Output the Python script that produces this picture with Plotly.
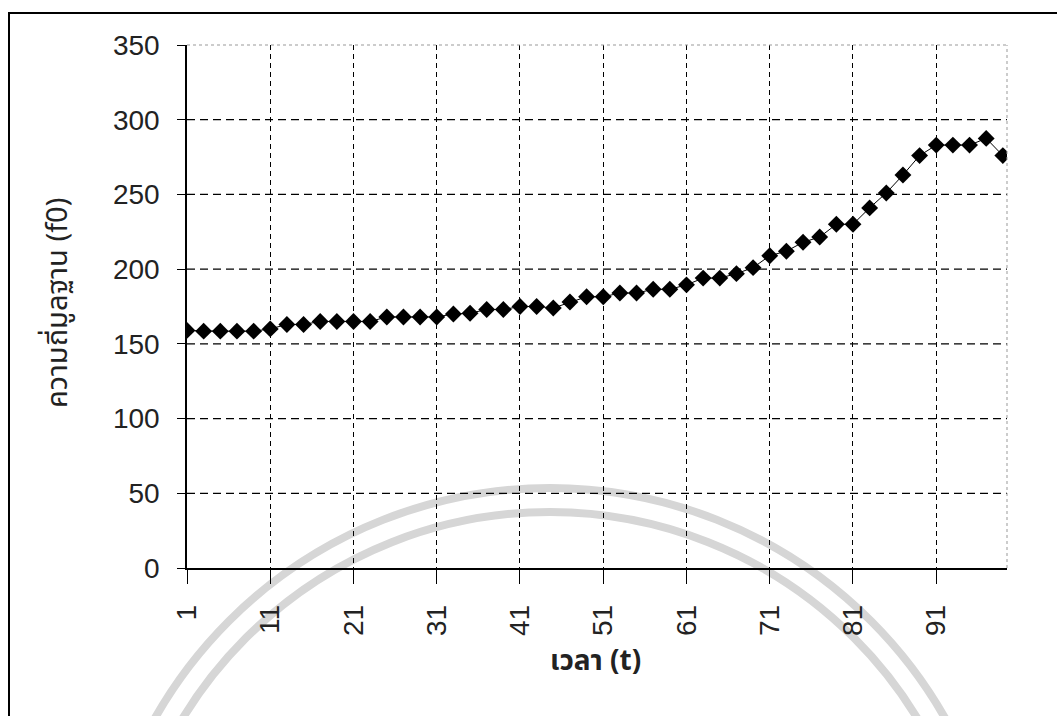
import plotly.graph_objects as go

# Fundamental frequency (f0) sampled every second time step
t_values = list(range(1, 100, 2))
f0_values = [
    159, 158.5, 158.5, 158.5, 158.5, 160, 163, 163, 165, 165,
    165, 165, 168, 168, 168, 168, 170, 170.5, 173, 173,
    175, 175, 174, 178, 181.5, 181.5, 184, 184, 186.5, 186.5,
    189.5, 194, 194, 197, 201, 209, 212, 218, 221.5, 230,
    230, 241, 251, 263, 276, 283, 283, 283, 287.5, 276,
]

x_ticks = list(range(1, 100, 10))
y_ticks = list(range(0, 351, 50))
y_grid = y_ticks[1:-1]

x_title = "เวลา (t)"
y_title = "ความถี่มูลฐาน (f0)"

NUM_FONT = "Liberation Sans Narrow, Arial Narrow, Liberation Sans, Arial, sans-serif"
THAI_FONT = "Noto Sans Thai, Tahoma, Loma, Garuda, Norasi, sans-serif"

W, H = 1057, 716
ML, MR, MT, MB = 187, 50, 45, 148
PW, PH = W - ML - MR, H - MT - MB


def px_x(p):
    return (p - ML) / PW


def px_y(p):
    return (H - MB - p) / PH


fig = go.Figure()
fig.add_trace(go.Scatter(
    x=t_values, y=f0_values,
    mode="lines+markers",
    line=dict(color="black", width=1),
    marker=dict(symbol="diamond", size=13, color="black"),
    showlegend=False,
))

shapes = []
# faint seal rings printed behind the chart
for r in (454, 430):
    shapes.append(dict(type="circle", xref="paper", yref="paper",
                       x0=px_x(550 - r), x1=px_x(550 + r),
                       y0=px_y(942 + r), y1=px_y(942 - r),
                       line=dict(color="#d6d6d6", width=8), layer="below"))
# horizontal dashed grid
for g in y_grid:
    shapes.append(dict(type="line", xref="x", yref="y", x0=1, x1=99.5, y0=g, y1=g,
                       line=dict(color="black", width=1.2, dash="8px,5px"), layer="below"))
# thin dotted plot-area border on top and right
shapes.append(dict(type="line", xref="paper", yref="paper", x0=0, x1=1, y0=1, y1=1,
                   line=dict(color="#999999", width=1, dash="dot")))
shapes.append(dict(type="line", xref="paper", yref="paper", x0=1, x1=1, y0=0, y1=1,
                   line=dict(color="#999999", width=1, dash="dot")))
# outer chart frame
shapes.append(dict(type="rect", xref="paper", yref="paper",
                   x0=px_x(9), x1=px_x(1070), y0=px_y(740), y1=px_y(13),
                   line=dict(color="black", width=2)))

fig.update_layout(
    width=W, height=H,
    margin=dict(l=ML, r=MR, t=MT, b=MB),
    paper_bgcolor="white", plot_bgcolor="rgba(0,0,0,0)",
    shapes=shapes,
    xaxis=dict(
        range=[1, 99.5], tickvals=x_ticks, ticktext=[str(v) for v in x_ticks],
        tickangle=-90, ticks="outside", ticklen=14, tickcolor="black", tickwidth=1.2,
        ticklabelstandoff=10,
        showline=True, linecolor="black", linewidth=1.5,
        showgrid=True, gridcolor="black", gridwidth=1.2, griddash="5px,4px",
        zeroline=False,
        tickfont=dict(family=NUM_FONT, size=28, color="#222222"),
    ),
    yaxis=dict(
        range=[0, 350], tickvals=y_ticks, ticks="outside", ticklen=8,
        tickcolor="black", tickwidth=1.2, ticklabelstandoff=12,
        showline=True, linecolor="black", linewidth=1.5,
        showgrid=False, zeroline=False,
        tickfont=dict(family=NUM_FONT, size=28, color="#222222"),
    ),
    annotations=[
        dict(text=y_title, xref="paper", yref="paper", x=px_x(58), y=px_y(303),
             textangle=-90, showarrow=False, xanchor="center", yanchor="middle",
             font=dict(family=THAI_FONT, size=29, color="#222222")),
        dict(text="<b>" + x_title + "</b>", xref="paper", yref="paper", x=px_x(595), y=px_y(661),
             showarrow=False, xanchor="center", yanchor="middle",
             font=dict(family=THAI_FONT, size=28, color="#222222")),
    ],
)

fig.write_html("out.html")
